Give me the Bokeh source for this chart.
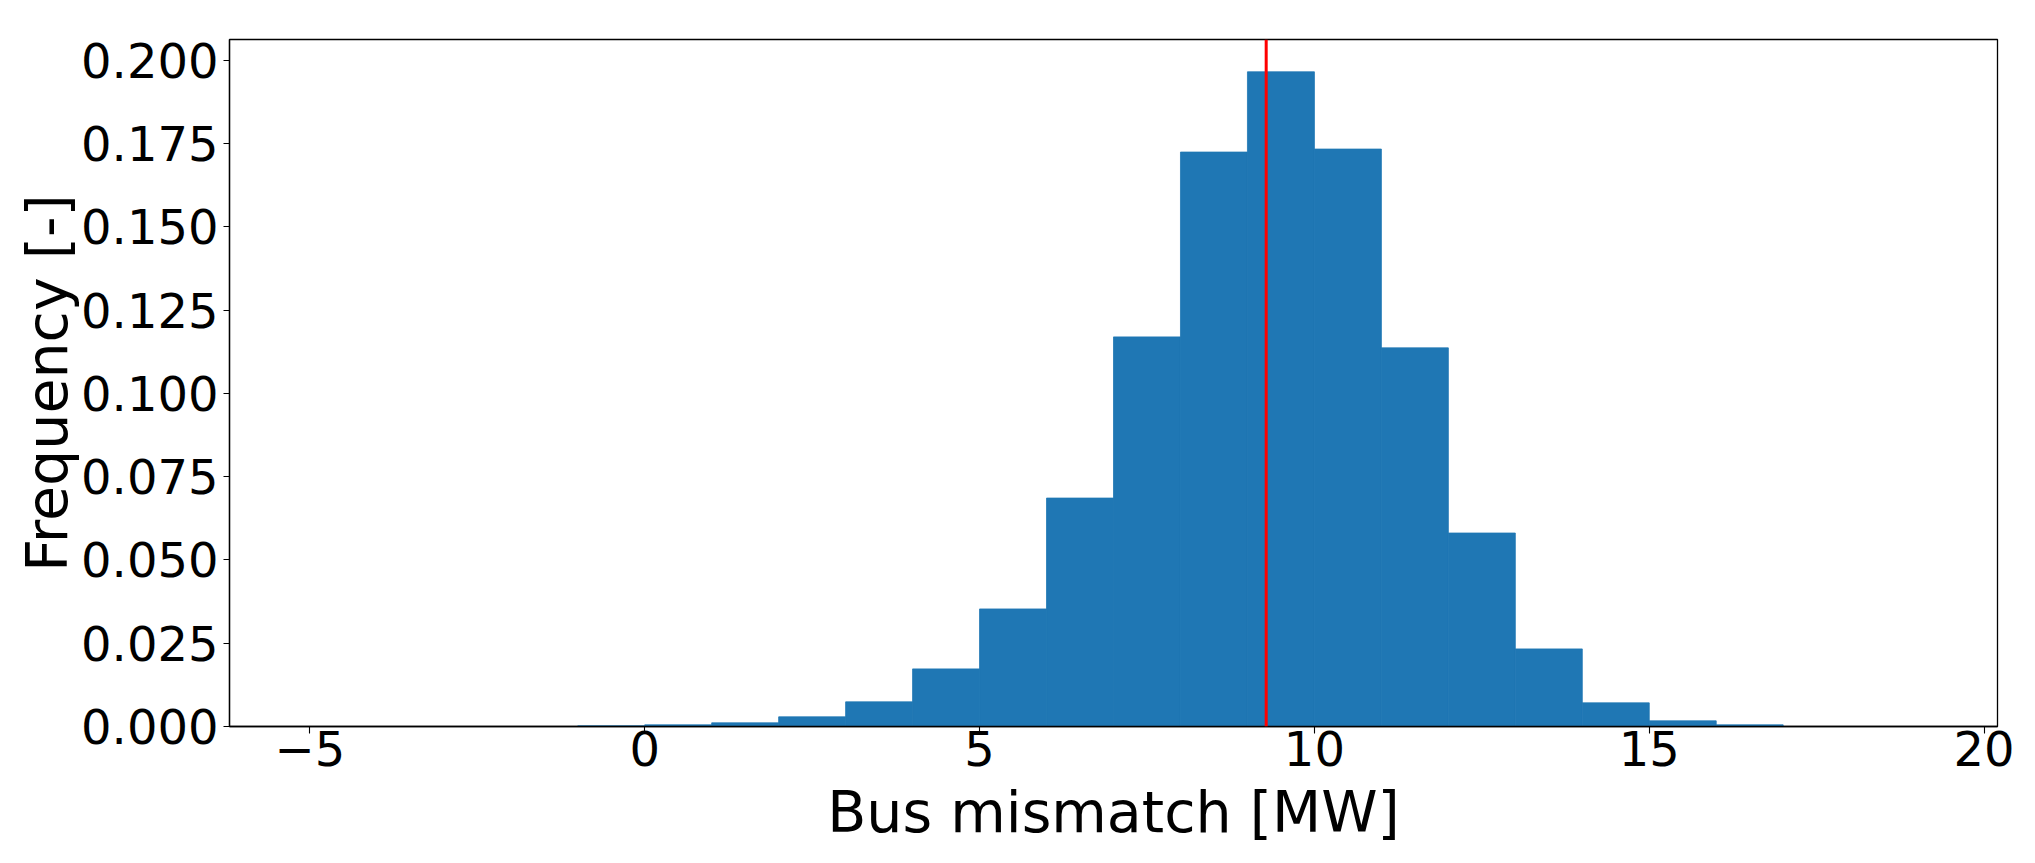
from bokeh.plotting import figure
from bokeh.models import Range1d, FixedTicker, NumeralTickFormatter, Span, ColumnDataSource
from bokeh.embed import file_html
from bokeh.resources import INLINE

# ---- data ----
bin_left = [-5, -4, -3, -2, -1, 0, 1, 2, 3, 4, 5, 6, 7, 8, 9, 10, 11, 12, 13, 14, 15, 16, 17, 18]
bin_right = [-4, -3, -2, -1, 0, 1, 2, 3, 4, 5, 6, 7, 8, 9, 10, 11, 12, 13, 14, 15, 16, 17, 18, 19]
frequency = [0.0, 0.0, 0.0, 0.0, 0.0002, 0.0005, 0.0011, 0.0029, 0.0074, 0.0173, 0.0353, 0.0686,
             0.1170, 0.1725, 0.1966, 0.1734, 0.1137, 0.0581, 0.0233, 0.0071, 0.0017, 0.0005, 0.0, 0.0]
mean_mismatch = [9.28]
x_ticks = [-5, 0, 5, 10, 15, 20]
y_ticks = [0.0, 0.025, 0.05, 0.075, 0.1, 0.125, 0.15, 0.175, 0.2]

FONT = "DejaVu Sans"
BAR = "#1f77b4"

src = ColumnDataSource(dict(left=bin_left, right=bin_right, top=frequency,
                            bottom=[0.0] * len(frequency)))

p = figure(frame_width=1768, frame_height=687,
           x_range=Range1d(-6.2, 20.2), y_range=Range1d(0, 0.2063),
           output_backend="svg", toolbar_location=None,
           min_border_left=229, min_border_top=39, min_border_right=30, min_border_bottom=110)

p.quad(left="left", right="right", top="top", bottom="bottom", source=src,
       fill_color=BAR, line_color=BAR, line_width=0.8)

p.add_layout(Span(location=mean_mismatch[0], dimension="height", line_color="#ff0000", line_width=3))

p.xgrid.visible = False
p.ygrid.visible = False
p.outline_line_color = "black"
p.outline_line_width = 1.3
p.outline_line_alpha = 1.0
p.background_fill_color = "white"
p.border_fill_color = "white"

xa = p.xaxis[0]
xa.ticker = FixedTicker(ticks=x_ticks)
xa.major_label_overrides = {-5: "\u22125"}
xa.axis_label = "Bus mismatch [MW]"

ya = p.yaxis[0]
ya.ticker = FixedTicker(ticks=y_ticks)
ya.formatter = NumeralTickFormatter(format="0.000")
ya.axis_label = "Frequency [-]"

for ax in (xa, ya):
    ax.axis_line_color = "black"
    ax.axis_line_width = 1.3
    ax.major_tick_line_color = "black"
    ax.major_tick_line_width = 1.1
    ax.major_tick_in = 0
    ax.minor_tick_line_color = None
    ax.major_label_text_font = FONT
    ax.major_label_text_font_size = "48px"
    ax.major_label_text_color = "black"
    ax.axis_label_text_font = FONT
    ax.axis_label_text_font_size = "57px"
    ax.axis_label_text_font_style = "normal"
    ax.axis_label_text_color = "black"

xa.major_tick_out = 7
xa.major_label_standoff = -3
xa.axis_label_standoff = 10
ya.major_tick_out = 6
ya.major_label_standoff = 5
ya.axis_label_standoff = -2

open("out.html", "w").write(file_html(p, INLINE))
